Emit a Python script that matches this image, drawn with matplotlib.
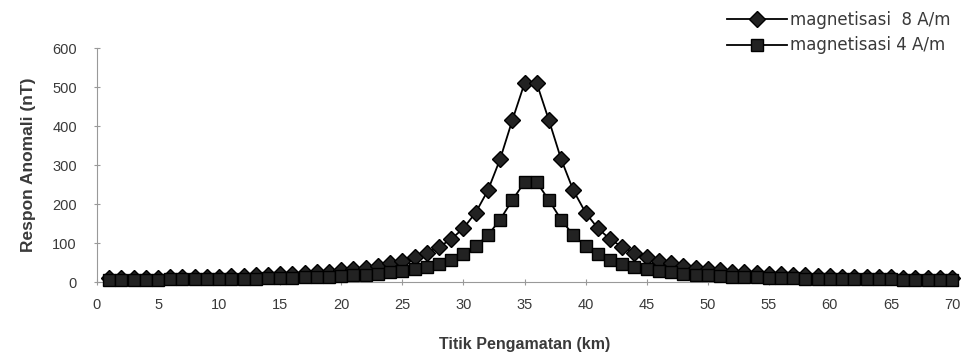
import matplotlib
matplotlib.use("Agg")
import matplotlib.pyplot as plt

# observation points (km)
x_km = list(range(1, 71))

# anomaly response (nT), magnetisation 8 A/m
resp_8 = [10, 10, 10.5, 11, 11.5, 12, 12.5, 13, 13.5, 14, 15, 16, 17, 18, 19.5,
          21, 23, 25, 27, 30, 33, 37, 42, 48, 55, 64, 75, 90, 110, 138,
          178, 235, 315, 415, 510, 510, 415, 315, 235, 178, 138, 110, 90, 75, 64,
          55, 48, 42, 37, 33, 30, 27, 25, 23, 21, 19.5, 18, 17, 16, 15,
          14, 13.5, 13, 12.5, 12, 11.5, 11, 10.5, 10, 10]

# anomaly response (nT), magnetisation 4 A/m
resp_4 = [5, 5.5, 5.5, 6, 6, 6.5, 6.5, 7, 7, 7.5, 8, 8.5, 9, 9.5, 10,
          11, 12, 13, 14, 15.5, 17, 19, 21.5, 24.5, 28, 33, 39, 47, 57, 72,
          92, 120, 160, 210, 256, 256, 210, 160, 120, 92, 72, 57, 47, 39, 33,
          28, 24.5, 21.5, 19, 17, 15.5, 14, 13, 12, 11, 10, 9.5, 9, 8.5, 8,
          7.5, 7, 7, 6.5, 6.5, 6, 6, 5.5, 5.5, 5]

x_ticks = list(range(0, 71, 5))
y_ticks = list(range(0, 601, 100))

plt.rcParams['font.family'] = ['Liberation Sans', 'DejaVu Sans']
txt = '#3a3a3a'

fig = plt.figure(figsize=(9.64, 3.57), dpi=100)
ax = fig.add_axes([0.1006, 0.210, 0.887, 0.655])

l8, = ax.plot(x_km, resp_8, color='black', lw=1.3, marker='D', ms=8,
              mfc='#222222', mec='black', clip_on=False, zorder=3,
              label='magnetisasi  8 A/m')
l4, = ax.plot(x_km, resp_4, color='black', lw=1.3, marker='s', ms=9,
              mfc='#222222', mec='black', clip_on=False, zorder=4,
              label='magnetisasi 4 A/m')

ax.set_xlim(0, 70)
ax.set_ylim(0, 600)
ax.set_xticks(x_ticks)
ax.set_yticks(y_ticks)

for side in ['top', 'right']:
    ax.spines[side].set_visible(False)
ax.spines['left'].set_color('#999999')
ax.spines['bottom'].set_color('#999999')
ax.spines['left'].set_linewidth(0.8)
ax.spines['bottom'].set_linewidth(0.8)
ax.tick_params(axis='both', colors='#999999', labelcolor=txt, labelsize=10.5,
               direction='inout', length=5)
ax.tick_params(axis='x', pad=9)
ax.tick_params(axis='y', pad=12)

ax.set_xlabel('Titik Pengamatan (km)', fontsize=11.5, fontweight='bold', color=txt, labelpad=18)
ax.set_ylabel('Respon Anomali (nT)', fontsize=12.5, fontweight='bold', color=txt, labelpad=12)

fig.legend(handles=[l8, l4], loc='upper right', bbox_to_anchor=(0.995, 0.995),
           frameon=False, prop={'family': 'DejaVu Sans', 'size': 12},
           handlelength=3.6, labelcolor=txt,
           borderaxespad=0.15, handletextpad=0.15, labelspacing=0.45)

fig.savefig('out.png', dpi=100, facecolor='white')
